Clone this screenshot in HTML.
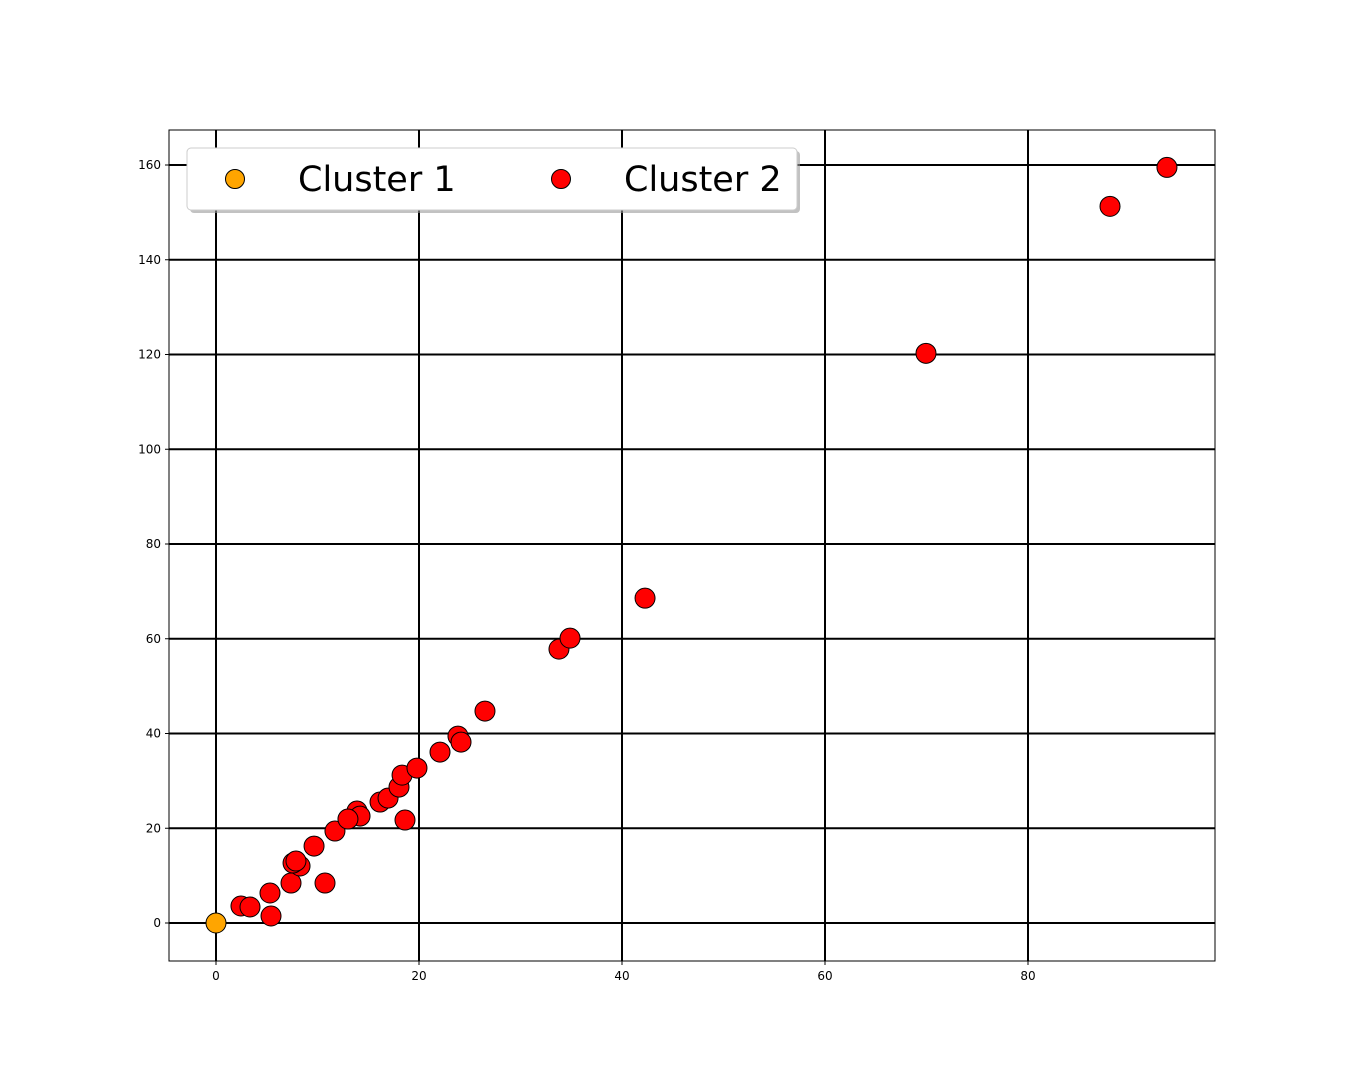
<!DOCTYPE html>
<html><head><meta charset="utf-8"><style>
html,body{margin:0;padding:0;background:#fff;}
svg{display:block;font-family:"DejaVu Sans","Liberation Sans",sans-serif;}
</style></head><body>
<svg id="chart" width="1350" height="1080" xmlns="http://www.w3.org/2000/svg">
<rect width="1350" height="1080" fill="#fff"/>
<g id="grid"></g>
<g id="ticks"></g>
<g id="points"></g>
<rect x="169" y="130" width="1046" height="831" fill="none" stroke="#000" stroke-width="1"/>
<g>
<rect x="190" y="151" width="610" height="62" rx="4" fill="#999" opacity="0.6"/>
<rect x="187" y="148" width="610" height="62" rx="4" fill="#fff" stroke="#ccc" stroke-width="1"/>
<g>
<circle cx="235" cy="179" r="9.5" fill="#FFA500" stroke="#000" stroke-width="1"/>
<text x="298" y="191" font-size="35" fill="#000">Cluster 1</text>
</g>
<g>
<circle cx="561" cy="179" r="9.5" fill="#FF0000" stroke="#000" stroke-width="1"/>
<text x="624" y="191" font-size="35" fill="#000">Cluster 2</text>
</g>
</g>
</svg>
<script>
const xTicks = [0, 20, 40, 60, 80];
const yTicks = [0, 20, 40, 60, 80, 100, 120, 140, 160];
const cluster1X = [0];
const cluster1Y = [0];
const cluster2X = [2.46,3.35,5.42,5.32,7.39,10.74,8.28,7.59,7.88,9.66,11.72,13.89,14.19,13.0,16.16,16.95,18.03,18.33,18.62,19.80,22.07,23.84,24.14,26.50,33.79,34.88,42.27,69.95,88.08,93.69];
const cluster2Y = [3.59,3.38,1.48,6.33,8.44,8.44,12.03,12.66,13.08,16.24,19.41,23.63,22.57,21.94,25.53,26.37,28.69,31.22,21.73,32.70,36.08,39.45,38.19,44.73,57.81,60.13,68.57,120.25,151.27,159.49];

const L=169,R=1215,T=130,B=961;
function sx(v){return 216 + v*(419-216)/20;}
function sy(v){return 923 - v*(923-165)/160;}
const NS='http://www.w3.org/2000/svg';
function mk(tag, attrs, parent){const e=document.createElementNS(NS,tag);for(const k in attrs)e.setAttribute(k,attrs[k]);parent.appendChild(e);return e;}
const grid=document.getElementById('grid'), ticks=document.getElementById('ticks'), pts=document.getElementById('points');
xTicks.forEach(v=>{
  const x=sx(v);
  const g=mk('line',{x1:x,x2:x,y1:T,y2:B,stroke:'#000','stroke-width':2},grid);
  
  
  mk('line',{x1:x,x2:x,y1:B,y2:B+4,stroke:'#000','stroke-width':1},ticks);
  const t=mk('text',{x:x,y:B+19,'font-size':12,'text-anchor':'middle',fill:'#000'},ticks);
  t.textContent=v;
  
  
});
yTicks.forEach(v=>{
  const y=sy(v);
  const g=mk('line',{x1:L,x2:R,y1:y,y2:y,stroke:'#000','stroke-width':2},grid);
  
  
  mk('line',{x1:L-4,x2:L,y1:y,y2:y,stroke:'#000','stroke-width':1},ticks);
  const t=mk('text',{x:L-8,y:y+4,'font-size':12,'text-anchor':'end',fill:'#000'},ticks);
  t.textContent=v;
  
  
});
cluster1X.forEach((v,i)=>{
  const c=mk('circle',{cx:sx(v),cy:sy(cluster1Y[i]),r:10,fill:'#FFA500',stroke:'#000','stroke-width':1},pts);
  
  
});
cluster2X.forEach((v,i)=>{
  const c=mk('circle',{cx:sx(v),cy:sy(cluster2Y[i]),r:10,fill:'#FF0000',stroke:'#000','stroke-width':1},pts);
  
  
});
</script>
</body></html>
